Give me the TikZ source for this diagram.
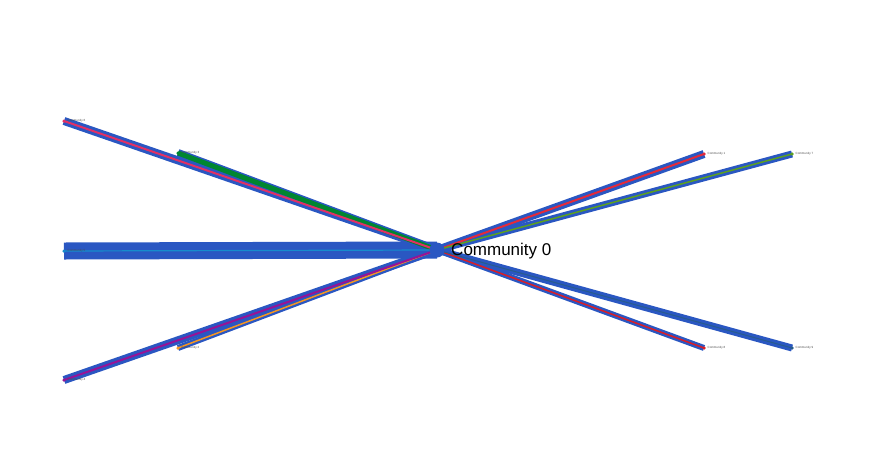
\documentclass[tikz,border=0pt]{standalone}
\usepackage{fontspec}
\setmainfont{Liberation Sans}
\usetikzlibrary{positioning}
\usetikzlibrary{backgrounds}

\definecolor{edgeblue}{RGB}{42,87,194}
\definecolor{colA}{RGB}{228,42,58}
\definecolor{colB}{RGB}{246,150,32}
\definecolor{colC}{RGB}{0,134,48}
\definecolor{colD}{RGB}{150,20,150}
\definecolor{colE}{RGB}{22,140,204}
\definecolor{colF}{RGB}{226,48,100}
\definecolor{colG}{RGB}{92,160,32}
\definecolor{colH}{RGB}{216,30,40}
\definecolor{colI}{RGB}{40,92,140}

\tikzset{
  band/.style={draw=edgeblue,line width=#1,line cap=butt},
  tie/.style={line width=#1,line cap=butt},
  enddot/.style={circle,inner sep=0pt,minimum size=3.5pt},
  tiny/.style={font=\fontsize{3}{3}\selectfont,text=black!70,inner sep=0.5pt,label distance=1pt}
}

\begin{document}
\begin{tikzpicture}[x=1pt,y=-1pt]
    \useasboundingbox (0,0) rectangle (874,450);
    \node[circle,fill=edgeblue,inner sep=0pt,minimum size=15pt] (c0) at (437,250) {};
    \node[right=3pt of c0,yshift=-1pt,font=\fontsize{17}{17}\selectfont] (c0label) {Community 0};
    \node[enddot,fill=colA,label={[tiny]right:Community 1}] (c1) at (704,154) {};
    \node[enddot,fill=colB,label={[tiny]right:Community 2}] (c2) at (178,348) {};
    \node[enddot,fill=colC,label={[tiny]right:Community 3}] (c3) at (178,153) {};
    \node[enddot,fill=colD,label={[tiny]right:Community 4}] (c4) at (64,380) {};
    \node[enddot,fill=colE,label={[tiny]right:Community 5}] (c5) at (64,251) {};
    \node[enddot,fill=colF,label={[tiny]right:Community 6}] (c6) at (64,121) {};
    \node[enddot,fill=colG,label={[tiny]right:Community 7}] (c7) at (792,154) {};
    \node[enddot,fill=colH,label={[tiny]right:Community 8}] (c8) at (704,348) {};
    \node[enddot,fill=colI,label={[tiny]right:Community 9}] (c9) at (792,348) {};
    \begin{scope}[on background layer]
      % blue bands
      \draw[band=8] (c0.center) -- (c1.center);
      \draw[band=6] (c0.center) -- (c2.center);
      \draw[band=8] (c0.center) -- (c3.center);
      \draw[band=8] (c0.center) -- (c4.center);
      \draw[band=17] (c0.center) -- (c5.center);
      \draw[band=8] (c0.center) -- (c6.center);
      \draw[band=7] (c0.center) -- (c7.center);
      \draw[band=6] (c0.center) -- (c8.center);
      \draw[band=7] (c0.center) -- (c9.center);
      % coloured ties
      \draw[tie=2,colA] (c0.center) -- (c1.center);
      \draw[tie=1.5,colB] (c0.center) -- (c2.center);
      \draw[tie=5,colC] (c0.center) -- (c3.center);
      \draw[tie=2,colD] (c0.center) -- (c4.center);
      \draw[tie=1.2,colE] (c0.center) -- (c5.center);
      \draw[tie=2,colF] (c0.center) -- (c6.center);
      \draw[tie=1.5,colG] (c0.center) -- (c7.center);
      \draw[tie=1.5,colH] (c0.center) -- (c8.center);
      \draw[tie=1,colI] (c0.center) -- (c9.center);
    \end{scope}
  \end{tikzpicture}
\end{document}
